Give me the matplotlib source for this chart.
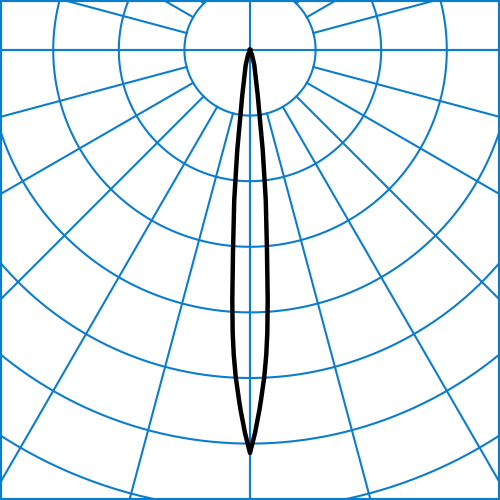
import numpy as np
import matplotlib
matplotlib.use("Agg")
import matplotlib.pyplot as plt

# Luminous intensity distribution (symmetric), angle from nadir in degrees
angles_deg = [0, 0.75, 1.5, 1.8, 2.5, 3.05, 3.5, 4.05, 4.85, 6.0, 7.25, 9.7, 16, 22, 30]
intensity = [6143, 5838, 5489, 5338, 4989, 4655, 4322, 3820, 3059, 2299, 1537, 697, 238, 80, 0]

ring_values = [1000, 2000, 3000, 4000, 5000, 6000, 7000, 8000, 9000]
spoke_angles = list(range(0, 360, 15))

BLUE = '#0b7dcd'
SCALE = 65.6 / 1000.0  # pixels per unit

fig = plt.figure(figsize=(5, 5), dpi=100)
ax = fig.add_axes([0, 0, 1, 1])
ax.set_xlim(-250 / SCALE, 250 / SCALE)
ax.set_ylim(-450 / SCALE, 50 / SCALE)
ax.set_aspect('equal')
ax.set_xticks([])
ax.set_yticks([])
for s in ax.spines.values():
    s.set_color(BLUE)
    s.set_linewidth(3)

lw = 1.5
t = np.linspace(0, 2 * np.pi, 721)
for rv in ring_values:
    ax.plot(rv * np.cos(t), rv * np.sin(t), color=BLUE, lw=lw)

rin = ring_values[0]
rout = 12000
for a in spoke_angles:
    ar = np.radians(a)
    ax.plot([rin * np.cos(ar), rout * np.cos(ar)], [rin * np.sin(ar), rout * np.sin(ar)],
            color=BLUE, lw=lw)
# full cross through the centre
ax.axhline(0, color=BLUE, lw=lw)
ax.axvline(0, color=BLUE, lw=lw)

# curve
a = np.array(angles_deg, dtype=float)
v = np.array(intensity, dtype=float)
th = np.concatenate([-a[::-1], a[1:]])
r = np.concatenate([v[::-1], v[1:]])
thr = np.radians(th)
x = r * np.sin(thr)
y = -r * np.cos(thr)
ax.plot(x, y, color='black', lw=3.2, solid_joinstyle='round', zorder=5)

fig.savefig('out.png', dpi=100)
